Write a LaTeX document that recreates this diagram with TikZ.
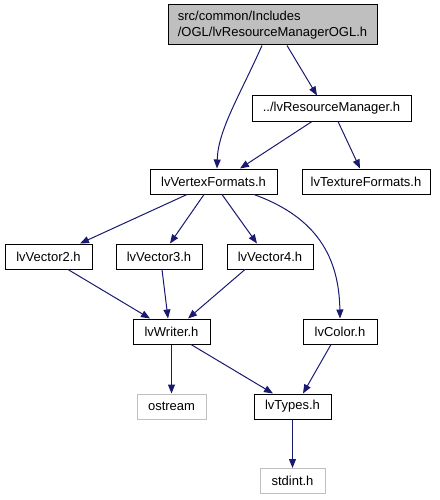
\documentclass[tikz,border=0pt]{standalone}
\usepackage{fontspec}
\setmainfont{Liberation Sans}
\usetikzlibrary{arrows.meta}
\definecolor{edgeblue}{HTML}{191970}
\definecolor{grayfill}{HTML}{BFBFBF}
\begin{document}
\begin{tikzpicture}[x=1pt,y=-1pt,
  box/.style={draw=black,line width=1pt,fill=white,inner sep=0pt,minimum height=25pt,
    font=\fontsize{13}{15.5}\selectfont},
  extbox/.style={box,draw=grayfill},
  topbox/.style={box,fill=grayfill,minimum height=40pt,align=left},
  dep/.style={draw=edgeblue,line width=1pt,-{Triangle[length=9pt,width=7pt,fill=edgeblue]}}]
\useasboundingbox (0,0) rectangle (439,500);
\node[topbox,minimum width=209pt] (top) at (272.5,25) {src/common/Includes\\/OGL/lvResourceManagerOGL.h};
\node[box,minimum width=159pt] (rm) at (331.5,108.5) {../lvResourceManager.h};
\node[box,minimum width=127pt] (vf) at (213.5,181.5) {lvVertexFormats.h};
\node[box,minimum width=128pt] (tf) at (366,181.5) {lvTextureFormats.h};
\node[box,minimum width=87pt] (v2) at (48.5,256.5) {lvVector2.h};
\node[box,minimum width=86pt] (v3) at (159,256.5) {lvVector3.h};
\node[box,minimum width=86pt] (v4) at (270,256.5) {lvVector4.h};
\node[box,minimum width=77pt] (wr) at (171.5,331.5) {lvWriter.h};
\node[box,minimum width=74pt] (col) at (340,331.5) {lvColor.h};
\node[extbox,minimum width=69pt] (os) at (171.5,406.5) {ostream};
\node[box,minimum width=77pt] (ty) at (292.5,406.5) {lvTypes.h};
\node[extbox,minimum width=65pt] (sd) at (292.5,481) {stdint.h};
% edges
\draw[dep] ([xshift=-10.5pt]top.south) .. controls (240,95) and (218,130) .. ([xshift=3.5pt]vf.north);
\draw[dep] ([xshift=14.5pt]top.south) -- ([xshift=-14.5pt]rm.north);
\draw[dep] ([xshift=-19.5pt]rm.south) -- ([xshift=26.5pt]vf.north);
\draw[dep] ([xshift=6.5pt]rm.south) -- ([xshift=-6pt]tf.north);
\draw[dep] ([xshift=-26.5pt]vf.south) -- ([xshift=31.5pt]v2.north);
\draw[dep] ([xshift=-9.5pt]vf.south) -- ([xshift=11pt]v3.north);
\draw[dep] ([xshift=8.5pt]vf.south) -- ([xshift=-13pt]v4.north);
\draw[dep] ([xshift=40.5pt]vf.south) .. controls (310,215) and (339,250) .. (col.north);
\draw[dep] ([xshift=19.5pt]v2.south) -- ([xshift=-21.5pt]wr.north);
\draw[dep] ([xshift=3pt]v3.south) -- ([xshift=-3.5pt]wr.north);
\draw[dep] ([xshift=-25pt]v4.south) -- ([xshift=16.5pt]wr.north);
\draw[dep] (wr.south) -- (os.north);
\draw[dep] ([xshift=19.5pt]wr.south) -- ([xshift=-19.5pt]ty.north);
\draw[dep] ([xshift=-9pt]col.south) -- ([xshift=10.5pt]ty.north);
\draw[dep] (ty.south) -- (sd.north);
\end{tikzpicture}
\end{document}
